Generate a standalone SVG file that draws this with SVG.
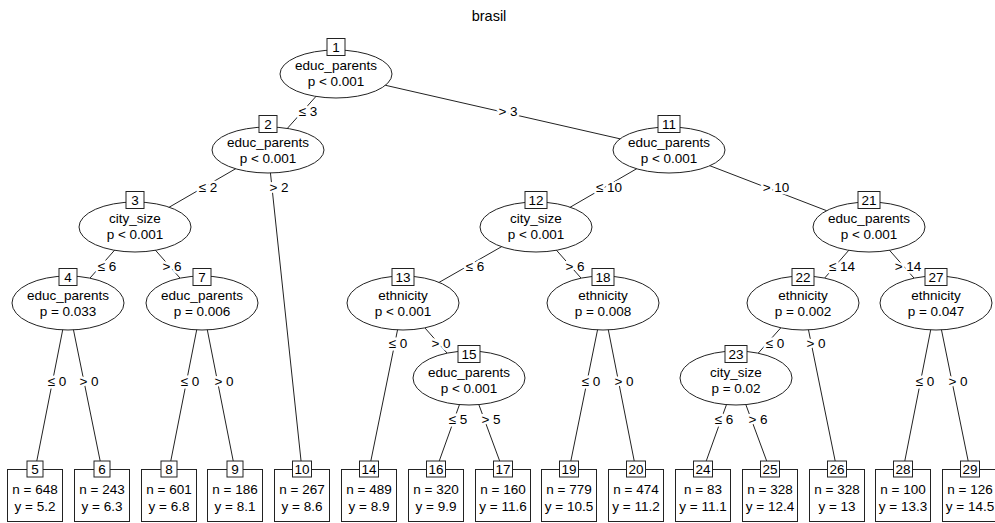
<svg xmlns="http://www.w3.org/2000/svg" width="995" height="523" viewBox="0 0 995 523">
  <style>
    text { font-family: "Liberation Sans", Arial, sans-serif; font-size: 13.5px; fill: #000; text-anchor: middle; }
    .title { font-size: 14.5px; }
    .edge line { stroke: #222; stroke-width: 1; fill: none; }
    .lab { stroke: #fff; stroke-width: 5px; stroke-linejoin: round; paint-order: stroke; }
    .inner ellipse { fill: #fff; stroke: #222; stroke-width: 1; }
    .idbox { fill: #fff; stroke: #222; stroke-width: 1; }
    .term rect.body { fill: #fff; stroke: #222; stroke-width: 1; }
  </style>

  <rect x="0" y="0" width="995" height="523" fill="#fff"/>
  <text class="title" x="489" y="21">brasil</text>

  <!-- connectors: drawn from node centre to node centre, hidden behind node fills -->
  <g id="connectors" class="edge">
    <line x1="336" y1="74" x2="268" y2="150"/>
    <line x1="336" y1="74" x2="669" y2="150"/>
    <line x1="268" y1="150" x2="135" y2="227"/>
    <line x1="268" y1="150" x2="302" y2="470"/>
    <line x1="135" y1="227" x2="68" y2="303"/>
    <line x1="135" y1="227" x2="202" y2="303"/>
    <line x1="68" y1="303" x2="35" y2="470"/>
    <line x1="68" y1="303" x2="102" y2="470"/>
    <line x1="202" y1="303" x2="169" y2="470"/>
    <line x1="202" y1="303" x2="235" y2="470"/>
    <line x1="669" y1="150" x2="536" y2="227"/>
    <line x1="669" y1="150" x2="869" y2="227"/>
    <line x1="536" y1="227" x2="403" y2="303"/>
    <line x1="536" y1="227" x2="603" y2="303"/>
    <line x1="403" y1="303" x2="369" y2="470"/>
    <line x1="403" y1="303" x2="469" y2="378"/>
    <line x1="469" y1="378" x2="436" y2="470"/>
    <line x1="469" y1="378" x2="503" y2="470"/>
    <line x1="603" y1="303" x2="569" y2="470"/>
    <line x1="603" y1="303" x2="636" y2="470"/>
    <line x1="869" y1="227" x2="803" y2="303"/>
    <line x1="869" y1="227" x2="936" y2="303"/>
    <line x1="803" y1="303" x2="736" y2="378"/>
    <line x1="803" y1="303" x2="837" y2="470"/>
    <line x1="736" y1="378" x2="703" y2="470"/>
    <line x1="736" y1="378" x2="770" y2="470"/>
    <line x1="936" y1="303" x2="903" y2="470"/>
    <line x1="936" y1="303" x2="970" y2="470"/>

    <!-- split labels -->
    <text class="lab" x="308" y="116">≤ 3</text>
    <text class="lab" x="508" y="116">&gt; 3</text>
    <text class="lab" x="208" y="192">≤ 2</text>
    <text class="lab" x="279" y="192">&gt; 2</text>
    <text class="lab" x="107" y="271">≤ 6</text>
    <text class="lab" x="172" y="271">&gt; 6</text>
    <text class="lab" x="57" y="386">≤ 0</text>
    <text class="lab" x="89" y="386">&gt; 0</text>
    <text class="lab" x="190" y="386">≤ 0</text>
    <text class="lab" x="224" y="386">&gt; 0</text>
    <text class="lab" x="609" y="192">≤ 10</text>
    <text class="lab" x="776" y="192">&gt; 10</text>
    <text class="lab" x="475" y="271">≤ 6</text>
    <text class="lab" x="575" y="271">&gt; 6</text>
    <text class="lab" x="398" y="348">≤ 0</text>
    <text class="lab" x="441" y="348">&gt; 0</text>
    <text class="lab" x="458" y="424">≤ 5</text>
    <text class="lab" x="491" y="424">&gt; 5</text>
    <text class="lab" x="591" y="386">≤ 0</text>
    <text class="lab" x="624" y="386">&gt; 0</text>
    <text class="lab" x="842" y="271">≤ 14</text>
    <text class="lab" x="908" y="271">&gt; 14</text>
    <text class="lab" x="775" y="348">≤ 0</text>
    <text class="lab" x="816" y="348">&gt; 0</text>
    <text class="lab" x="724" y="424">≤ 6</text>
    <text class="lab" x="758" y="424">&gt; 6</text>
    <text class="lab" x="925" y="386">≤ 0</text>
    <text class="lab" x="958" y="386">&gt; 0</text>
  </g>

  <!-- inner (split) nodes -->
  <g id="node1" class="inner">
    <ellipse cx="336" cy="74" rx="56" ry="24"/>
    <rect class="idbox" x="327" y="38.5" width="18" height="17"/>
    <text x="336" y="52">1</text>
    <text x="336" y="70">educ_parents</text>
    <text x="336" y="86">p &lt; 0.001</text>
  </g>
  <g id="node2" class="inner">
    <ellipse cx="268" cy="150" rx="56" ry="23"/>
    <rect class="idbox" x="259" y="115.5" width="18" height="17"/>
    <text x="268" y="129">2</text>
    <text x="268" y="147">educ_parents</text>
    <text x="268" y="163">p &lt; 0.001</text>
  </g>
  <g id="node11" class="inner">
    <ellipse cx="669" cy="150" rx="56" ry="23"/>
    <rect class="idbox" x="658" y="115.5" width="22" height="17"/>
    <text x="669" y="129">11</text>
    <text x="669" y="147">educ_parents</text>
    <text x="669" y="163">p &lt; 0.001</text>
  </g>
  <g id="node3" class="inner">
    <ellipse cx="135" cy="227" rx="56" ry="25"/>
    <rect class="idbox" x="126" y="191.5" width="18" height="17"/>
    <text x="135" y="205">3</text>
    <text x="135" y="223">city_size</text>
    <text x="135" y="239">p &lt; 0.001</text>
  </g>
  <g id="node12" class="inner">
    <ellipse cx="536" cy="227" rx="56" ry="25"/>
    <rect class="idbox" x="525" y="191.5" width="22" height="17"/>
    <text x="536" y="205">12</text>
    <text x="536" y="223">city_size</text>
    <text x="536" y="239">p &lt; 0.001</text>
  </g>
  <g id="node21" class="inner">
    <ellipse cx="869" cy="227" rx="56" ry="25"/>
    <rect class="idbox" x="858" y="191.5" width="22" height="17"/>
    <text x="869" y="205">21</text>
    <text x="869" y="223">educ_parents</text>
    <text x="869" y="239">p &lt; 0.001</text>
  </g>
  <g id="node4" class="inner">
    <ellipse cx="68" cy="303" rx="56" ry="27"/>
    <rect class="idbox" x="59" y="268.5" width="18" height="17"/>
    <text x="68" y="282">4</text>
    <text x="68" y="300">educ_parents</text>
    <text x="68" y="316">p = 0.033</text>
  </g>
  <g id="node7" class="inner">
    <ellipse cx="202" cy="303" rx="56" ry="27"/>
    <rect class="idbox" x="193" y="268.5" width="18" height="17"/>
    <text x="202" y="282">7</text>
    <text x="202" y="300">educ_parents</text>
    <text x="202" y="316">p = 0.006</text>
  </g>
  <g id="node13" class="inner">
    <ellipse cx="403" cy="303" rx="56" ry="27"/>
    <rect class="idbox" x="392" y="268.5" width="22" height="17"/>
    <text x="403" y="282">13</text>
    <text x="403" y="300">ethnicity</text>
    <text x="403" y="316">p &lt; 0.001</text>
  </g>
  <g id="node18" class="inner">
    <ellipse cx="603" cy="303" rx="56" ry="27"/>
    <rect class="idbox" x="592" y="268.5" width="22" height="17"/>
    <text x="603" y="282">18</text>
    <text x="603" y="300">ethnicity</text>
    <text x="603" y="316">p = 0.008</text>
  </g>
  <g id="node22" class="inner">
    <ellipse cx="803" cy="303" rx="56" ry="27"/>
    <rect class="idbox" x="792" y="268.5" width="22" height="17"/>
    <text x="803" y="282">22</text>
    <text x="803" y="300">ethnicity</text>
    <text x="803" y="316">p = 0.002</text>
  </g>
  <g id="node27" class="inner">
    <ellipse cx="936" cy="303" rx="56" ry="27"/>
    <rect class="idbox" x="925" y="268.5" width="22" height="17"/>
    <text x="936" y="282">27</text>
    <text x="936" y="300">ethnicity</text>
    <text x="936" y="316">p = 0.047</text>
  </g>
  <g id="node15" class="inner">
    <ellipse cx="469" cy="378" rx="56" ry="27"/>
    <rect class="idbox" x="458" y="345.5" width="22" height="17"/>
    <text x="469" y="359">15</text>
    <text x="469" y="377">educ_parents</text>
    <text x="469" y="393">p &lt; 0.001</text>
  </g>
  <g id="node23" class="inner">
    <ellipse cx="736" cy="378" rx="56" ry="27"/>
    <rect class="idbox" x="725" y="345.5" width="22" height="17"/>
    <text x="736" y="359">23</text>
    <text x="736" y="377">city_size</text>
    <text x="736" y="393">p = 0.02</text>
  </g>

  <!-- terminal nodes -->
  <g id="node5" class="term">
    <rect class="body" x="7.5" y="469.5" width="55" height="52"/>
    <rect class="idbox" x="27" y="461" width="16" height="16"/>
    <text x="35" y="474">5</text>
    <text x="35" y="494">n = 648</text>
    <text x="35" y="511">y = 5.2</text>
  </g>
  <g id="node6" class="term">
    <rect class="body" x="74.5" y="469.5" width="55" height="52"/>
    <rect class="idbox" x="94" y="461" width="16" height="16"/>
    <text x="102" y="474">6</text>
    <text x="102" y="494">n = 243</text>
    <text x="102" y="511">y = 6.3</text>
  </g>
  <g id="node8" class="term">
    <rect class="body" x="141.5" y="469.5" width="55" height="52"/>
    <rect class="idbox" x="161" y="461" width="16" height="16"/>
    <text x="169" y="474">8</text>
    <text x="169" y="494">n = 601</text>
    <text x="169" y="511">y = 6.8</text>
  </g>
  <g id="node9" class="term">
    <rect class="body" x="207.5" y="469.5" width="55" height="52"/>
    <rect class="idbox" x="227" y="461" width="16" height="16"/>
    <text x="235" y="474">9</text>
    <text x="235" y="494">n = 186</text>
    <text x="235" y="511">y = 8.1</text>
  </g>
  <g id="node10" class="term">
    <rect class="body" x="274.5" y="469.5" width="55" height="52"/>
    <rect class="idbox" x="292.5" y="461" width="19" height="16"/>
    <text x="302" y="474">10</text>
    <text x="302" y="494">n = 267</text>
    <text x="302" y="511">y = 8.6</text>
  </g>
  <g id="node14" class="term">
    <rect class="body" x="341.5" y="469.5" width="55" height="52"/>
    <rect class="idbox" x="359.5" y="461" width="19" height="16"/>
    <text x="369" y="474">14</text>
    <text x="369" y="494">n = 489</text>
    <text x="369" y="511">y = 8.9</text>
  </g>
  <g id="node16" class="term">
    <rect class="body" x="408.5" y="469.5" width="55" height="52"/>
    <rect class="idbox" x="426.5" y="461" width="19" height="16"/>
    <text x="436" y="474">16</text>
    <text x="436" y="494">n = 320</text>
    <text x="436" y="511">y = 9.9</text>
  </g>
  <g id="node17" class="term">
    <rect class="body" x="475.5" y="469.5" width="55" height="52"/>
    <rect class="idbox" x="493.5" y="461" width="19" height="16"/>
    <text x="503" y="474">17</text>
    <text x="503" y="494">n = 160</text>
    <text x="503" y="511">y = 11.6</text>
  </g>
  <g id="node19" class="term">
    <rect class="body" x="541.5" y="469.5" width="55" height="52"/>
    <rect class="idbox" x="559.5" y="461" width="19" height="16"/>
    <text x="569" y="474">19</text>
    <text x="569" y="494">n = 779</text>
    <text x="569" y="511">y = 10.5</text>
  </g>
  <g id="node20" class="term">
    <rect class="body" x="608.5" y="469.5" width="55" height="52"/>
    <rect class="idbox" x="626.5" y="461" width="19" height="16"/>
    <text x="636" y="474">20</text>
    <text x="636" y="494">n = 474</text>
    <text x="636" y="511">y = 11.2</text>
  </g>
  <g id="node24" class="term">
    <rect class="body" x="675.5" y="469.5" width="55" height="52"/>
    <rect class="idbox" x="693.5" y="461" width="19" height="16"/>
    <text x="703" y="474">24</text>
    <text x="703" y="494">n = 83</text>
    <text x="703" y="511">y = 11.1</text>
  </g>
  <g id="node25" class="term">
    <rect class="body" x="742.5" y="469.5" width="55" height="52"/>
    <rect class="idbox" x="760.5" y="461" width="19" height="16"/>
    <text x="770" y="474">25</text>
    <text x="770" y="494">n = 328</text>
    <text x="770" y="511">y = 12.4</text>
  </g>
  <g id="node26" class="term">
    <rect class="body" x="809.5" y="469.5" width="55" height="52"/>
    <rect class="idbox" x="827.5" y="461" width="19" height="16"/>
    <text x="837" y="474">26</text>
    <text x="837" y="494">n = 328</text>
    <text x="837" y="511">y = 13</text>
  </g>
  <g id="node28" class="term">
    <rect class="body" x="875.5" y="469.5" width="55" height="52"/>
    <rect class="idbox" x="893.5" y="461" width="19" height="16"/>
    <text x="903" y="474">28</text>
    <text x="903" y="494">n = 100</text>
    <text x="903" y="511">y = 13.3</text>
  </g>
  <g id="node29" class="term">
    <rect class="body" x="942.5" y="469.5" width="55" height="52"/>
    <rect class="idbox" x="960.5" y="461" width="19" height="16"/>
    <text x="970" y="474">29</text>
    <text x="970" y="494">n = 126</text>
    <text x="970" y="511">y = 14.5</text>
  </g>
</svg>
